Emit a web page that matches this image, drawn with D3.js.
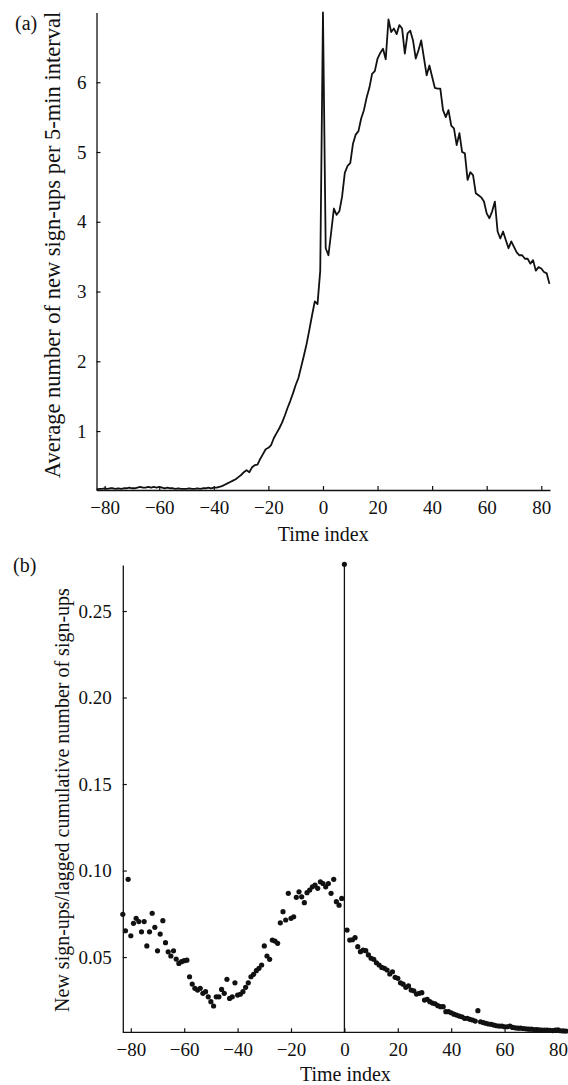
<!DOCTYPE html>
<html>
<head>
<meta charset="utf-8">
<script src="https://cdn.jsdelivr.net/npm/d3@7/dist/d3.min.js"></script>
<style>
  html, body { margin: 0; padding: 0; background: #fff; }
  svg { display: block; }
  text { font-family: "Liberation Serif", "Times New Roman", serif; fill: #111; }
</style>
</head>
<body>
<svg id="chart" width="568" height="1085"></svg>
<script>
// ---------- Data ----------
const timeStart = -83;
const timeEnd = 83;

// Panel (a): average number of new sign-ups per 5-min interval, t = -83 .. 83
const signups = [
  0.16, 0.17, 0.17, 0.18, 0.17, 0.18, 0.18, 0.17, 0.18, 0.17,   // -83..-74
  0.18, 0.18, 0.19, 0.18, 0.18, 0.19, 0.20, 0.19, 0.19, 0.20,   // -73..-64
  0.19, 0.20, 0.19, 0.20, 0.19, 0.18, 0.19, 0.18, 0.18, 0.17,   // -63..-54
  0.18, 0.17, 0.17, 0.17, 0.18, 0.17, 0.17, 0.18, 0.17, 0.18,   // -53..-44
  0.18, 0.19, 0.18, 0.19, 0.19, 0.20, 0.21, 0.23, 0.25, 0.27,   // -43..-34
  0.29, 0.31, 0.34, 0.37, 0.41, 0.44, 0.41, 0.48, 0.51, 0.52,   // -33..-24
  0.60, 0.67, 0.74, 0.76, 0.80, 0.90, 0.97, 1.04, 1.12, 1.22,   // -23..-14
  1.33, 1.43, 1.54, 1.66, 1.76, 1.92, 2.08, 2.25, 2.45, 2.66,   // -13..-4
  2.86, 2.82, 3.30, 7.00, 3.62, 3.52, 3.85, 4.19, 4.10, 4.15,   // -3..6
  4.36, 4.70, 4.80, 4.84, 5.12, 5.25, 5.30, 5.48, 5.60, 5.78,   // 7..16
  5.92, 6.12, 6.16, 6.34, 6.42, 6.48, 6.33, 6.90, 6.72, 6.77,   // 17..26
  6.69, 6.82, 6.77, 6.41, 6.70, 6.74, 6.60, 6.34, 6.46, 6.60,   // 27..36
  6.35, 6.10, 6.24, 6.08, 5.92, 5.91, 5.91, 5.60, 5.50, 5.60,   // 37..46
  5.38, 5.34, 5.10, 5.27, 5.00, 4.98, 4.60, 4.71, 4.67, 4.41,   // 47..56
  4.38, 4.35, 4.29, 4.12, 4.05, 4.15, 4.29, 3.86, 3.76, 3.86,   // 57..66
  3.74, 3.62, 3.72, 3.64, 3.56, 3.52, 3.52, 3.47, 3.47, 3.40,   // 67..76
  3.45, 3.30, 3.35, 3.33, 3.28, 3.26, 3.11                      // 77..83
];

// Panel (b): new sign-ups / lagged cumulative number of sign-ups, t = -83 .. 83
const ratio = [
  0.0747, 0.0652, 0.0949, 0.0623, 0.0695, 0.0724, 0.0705, 0.0646, 0.0705, 0.0564, // -83..-74
  0.0646, 0.0753, 0.0672, 0.0536, 0.0633, 0.0710, 0.0583, 0.0530, 0.0506, 0.0536, // -73..-64
  0.0488, 0.0463, 0.0473, 0.0479, 0.0482, 0.0386, 0.0344, 0.0319, 0.0309, 0.0319, // -63..-54
  0.0290, 0.0300, 0.0270, 0.0242, 0.0217, 0.0270, 0.0270, 0.0313, 0.0290, 0.0371, // -53..-44
  0.0261, 0.0270, 0.0351, 0.0280, 0.0285, 0.0300, 0.0325, 0.0351, 0.0386, 0.0400, // -43..-34
  0.0421, 0.0435, 0.0454, 0.0564, 0.0506, 0.0487, 0.0598, 0.0592, 0.0579, 0.0698, // -33..-24
  0.0762, 0.0714, 0.0868, 0.0724, 0.0733, 0.0845, 0.0877, 0.0848, 0.0814, 0.0872, // -23..-14
  0.0887, 0.0906, 0.0916, 0.0897, 0.0935, 0.0925, 0.0906, 0.0925, 0.0868, 0.0949, // -13..-4
  0.0820, 0.0800, 0.0839, 0.2770, 0.0656, 0.0598, 0.0600, 0.0612, 0.0560, 0.0531, // -3..6
  0.0540, 0.0537, 0.0512, 0.0493, 0.0487, 0.0467, 0.0454, 0.0440, 0.0435, 0.0425, // 7..16
  0.0402, 0.0415, 0.0383, 0.0377, 0.0351, 0.0343, 0.0325, 0.0333, 0.0309, 0.0305, // 17..26
  0.0286, 0.0290, 0.0294, 0.0251, 0.0255, 0.0242, 0.0234, 0.0230, 0.0219, 0.0213, // 27..36
  0.0213, 0.0184, 0.0184, 0.0178, 0.0170, 0.0164, 0.0159, 0.0155, 0.0146, 0.0146, // 37..46
  0.0140, 0.0136, 0.0130, 0.0190, 0.0126, 0.0121, 0.0117, 0.0113, 0.0111, 0.0107, // 47..56
  0.0103, 0.0101, 0.0101, 0.0097, 0.0097, 0.0101, 0.0093, 0.0091, 0.0089, 0.0089, // 57..66
  0.0087, 0.0085, 0.0083, 0.0083, 0.0081, 0.0080, 0.0079, 0.0078, 0.0078, 0.0077, // 67..76
  0.0076, 0.0075, 0.0077, 0.0079, 0.0074, 0.0073, 0.0072                          // 77..83
];

const xTicks = [-80, -60, -40, -20, 0, 20, 40, 60, 80];
const yTicksA = [1, 2, 3, 4, 5, 6];
const yTicksB = [0.05, 0.10, 0.15, 0.20, 0.25];

const xLabel = "Time index";
const yLabelA = "Average number of new sign-ups per 5-min interval";
const yLabelB = "New sign-ups/lagged cumulative number of sign-ups";
const panelA = "(a)";
const panelB = "(b)";

// ---------- Drawing ----------
const times = d3.range(timeStart, timeEnd + 1);
const dataA = times.map((t, i) => ({ t, v: signups[i] }));
const dataB = times.map((t, i) => ({ t, v: ratio[i] }));

const svg = d3.select("#chart");
const FONT = '"Liberation Serif", "Times New Roman", serif';
const tickFont = 19;
const labelFont = 20;

function styleAxis(g) {
  g.attr("font-family", null).attr("font-size", null);
  g.selectAll(".domain").attr("stroke", "#111").attr("stroke-width", 1.3);
  g.selectAll(".tick line").attr("stroke", "#111").attr("stroke-width", 1.2);
  g.selectAll(".tick text")
    .attr("fill", "#111")
    .style("font-family", FONT)
    .style("font-size", tickFont + "px");
}

// ----- Panel (a) -----
const xA = d3.scaleLinear().domain([-83, 83.2]).range([96.5, 550]);
const yA = d3.scaleLinear().domain([0.155, 7.0]).range([490, 12.5]);

svg.append("g")
  .attr("transform", `translate(0,${yA.range()[0]})`)
  .call(d3.axisBottom(xA).tickValues(xTicks).tickSizeInner(-4).tickSizeOuter(0).tickPadding(10.5))
  .call(styleAxis);

svg.append("g")
  .attr("transform", `translate(${xA.range()[0]},0)`)
  .call(d3.axisLeft(yA).tickValues(yTicksA).tickFormat(d3.format("d")).tickSizeInner(-4).tickSizeOuter(0).tickPadding(10))
  .call(styleAxis);

svg.append("path")
  .datum(dataA)
  .attr("fill", "none")
  .attr("stroke", "#111")
  .attr("stroke-width", 1.8)
  .attr("stroke-linejoin", "round")
  .attr("d", d3.line().x(d => xA(d.t)).y(d => yA(d.v)));

svg.append("text")
  .attr("x", (xA.range()[0] + xA.range()[1]) / 2)
  .attr("y", 541)
  .attr("text-anchor", "middle")
  .style("font-size", labelFont + "px")
  .text(xLabel);

svg.append("text")
  .attr("transform", `translate(60,${245}) rotate(-90)`)
  .attr("text-anchor", "middle")
  .style("font-size", "22.5px")
  .text(yLabelA);

svg.append("text")
  .attr("x", 15).attr("y", 30)
  .style("font-size", "20px")
  .text(panelA);

// ----- Panel (b) -----
const xB = d3.scaleLinear().domain([-83, 83]).range([122.8, 566]);
const yB = d3.scaleLinear().domain([0.0065, 0.2766]).range([1032.3, 565]);

svg.append("g")
  .attr("transform", `translate(0,${yB.range()[0]})`)
  .call(d3.axisBottom(xB).tickValues(xTicks).tickSizeInner(-4).tickSizeOuter(0).tickPadding(10.5))
  .call(g => g.select(".domain").attr("d", `M${xB.range()[0]},0H568`))
  .call(styleAxis);

svg.append("g")
  .attr("transform", `translate(${xB.range()[0]},0)`)
  .call(d3.axisLeft(yB).tickValues(yTicksB).tickFormat(d3.format(".2f")).tickSizeInner(-4).tickSizeOuter(0).tickPadding(11))
  .call(styleAxis);

// vertical stem at time 0
const peak = dataB.find(d => d.t === 0);
svg.append("line")
  .attr("x1", xB(peak.t)).attr("x2", xB(peak.t))
  .attr("y1", yB(peak.v)).attr("y2", yB.range()[0])
  .attr("stroke", "#111").attr("stroke-width", 1.3);

svg.append("g")
  .selectAll("circle")
  .data(dataB)
  .join("circle")
  .attr("cx", d => xB(d.t))
  .attr("cy", d => yB(d.v))
  .attr("r", 2.6)
  .attr("fill", "#111");

svg.append("text")
  .attr("x", (xB.range()[0] + 568) / 2)
  .attr("y", 1081)
  .attr("text-anchor", "middle")
  .style("font-size", labelFont + "px")
  .text(xLabel);

svg.append("text")
  .attr("transform", `translate(69,${800}) rotate(-90)`)
  .attr("text-anchor", "middle")
  .style("font-size", labelFont + "px")
  .text(yLabelB);

svg.append("text")
  .attr("x", 13).attr("y", 572)
  .style("font-size", "20px")
  .text(panelB);
</script>
</body>
</html>
